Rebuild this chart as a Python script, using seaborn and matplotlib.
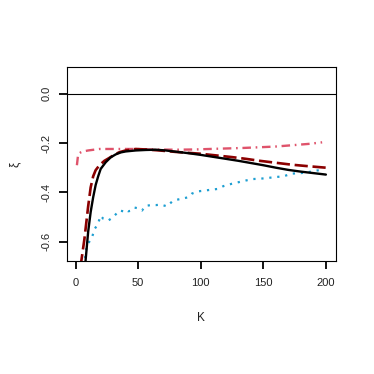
import matplotlib
matplotlib.use("Agg")
import matplotlib.pyplot as plt
import seaborn as sns

# xi estimates against K
k_black = [4, 8, 10, 12, 14, 16, 18, 20, 24, 28, 32, 36, 40, 48, 56, 64, 72, 80,
           90, 100, 110, 120, 130, 140, 150, 160, 170, 180, 190, 200]
xi_black = [-0.95, -0.673, -0.56, -0.48, -0.42, -0.37, -0.335, -0.305, -0.278, -0.258,
            -0.246, -0.238, -0.234, -0.23, -0.228, -0.227, -0.23, -0.235, -0.241, -0.248,
            -0.256, -0.264, -0.272, -0.281, -0.29, -0.3, -0.309, -0.316, -0.322, -0.328]

k_red = [3, 4.5, 7, 10, 12, 14, 16, 19, 23, 27, 31, 35, 40, 48, 56, 67, 80, 99,
         112, 125, 136, 147, 160, 173, 186, 200]
xi_red = [-0.85, -0.68, -0.59, -0.457, -0.38, -0.335, -0.31, -0.29, -0.272, -0.26,
          -0.247, -0.237, -0.23, -0.224, -0.226, -0.23, -0.236, -0.243, -0.25, -0.257,
          -0.264, -0.272, -0.28, -0.288, -0.294, -0.30]

k_pink = [1, 2, 4, 6, 10, 19, 30, 46, 60, 80, 95, 107, 120, 133, 147, 160, 175, 187, 197]
xi_pink = [-0.29, -0.245, -0.238, -0.234, -0.23, -0.224, -0.224, -0.224, -0.226, -0.227,
           -0.226, -0.224, -0.222, -0.22, -0.217, -0.214, -0.208, -0.203, -0.197]

k_cyan = [7, 8, 9, 11, 13, 15, 17, 18, 20, 22, 24, 26, 28, 31, 35, 38, 40, 42, 44, 47,
          50, 53, 56, 60, 64, 68, 73, 77, 81, 85, 90, 93, 98, 103, 109, 114, 118, 125,
          131, 136, 142, 147, 153, 160, 166, 173, 180, 186, 192, 198]
xi_cyan = [-0.70, -0.646, -0.615, -0.60, -0.585, -0.55, -0.535, -0.525, -0.495, -0.507,
           -0.51, -0.515, -0.508, -0.495, -0.474, -0.477, -0.47, -0.477, -0.475, -0.462,
           -0.465, -0.474, -0.455, -0.452, -0.452, -0.45, -0.457, -0.438, -0.43, -0.426,
           -0.42, -0.405, -0.396, -0.393, -0.389, -0.386, -0.375, -0.365, -0.358, -0.352,
           -0.346, -0.345, -0.342, -0.338, -0.335, -0.324, -0.322, -0.318, -0.312, -0.308]

x_ticks = [0, 50, 100, 150, 200]
y_ticks = [-0.6, -0.4, -0.2, 0.0]

sns.set_style("ticks")
plt.rcParams['font.family'] = ['Liberation Sans', 'DejaVu Sans']
plt.rcParams['axes.unicode_minus'] = False

fig = plt.figure(figsize=(3.74, 3.74), dpi=100)
ax = fig.add_axes([0.179, 0.302, 0.719, 0.519])

ax.axhline(0, color="black", lw=0.8)
sns.lineplot(x=k_cyan, y=xi_cyan, ax=ax, color="#1E9FD2", lw=1.6,
             linestyle=(0, (1, 2.6)), sort=False)
sns.lineplot(x=k_pink, y=xi_pink, ax=ax, color="#DF536B", lw=1.7,
             linestyle=(0, (3.6, 2, 0.7, 2)), sort=False)
sns.lineplot(x=k_red, y=xi_red, ax=ax, color="#8B0000", lw=1.9,
             linestyle=(0, (5, 1.8)), sort=False)
sns.lineplot(x=k_black, y=xi_black, ax=ax, color="black", lw=1.7, sort=False)

ax.set_xlim(-6.96, 207.96)
ax.set_ylim(-0.6792, 0.1092)
ax.set_xticks(x_ticks)
ax.set_yticks(y_ticks)
ax.set_yticklabels([f"{v:.1f}" for v in y_ticks], rotation=90, va="center")

for s in ax.spines.values():
    s.set_color("black")
    s.set_linewidth(0.8)
ax.tick_params(axis="both", direction="out", length=5.5, width=1.3, color="black",
               labelsize=8, labelcolor="#222222")
ax.tick_params(axis="x", pad=6.5)
ax.tick_params(axis="y", pad=5.5)

ax.set_xlabel("K", fontsize=8.5, color="#222222")
ax.set_ylabel("ξ", fontsize=8.5, color="#222222", rotation=90)
ax.xaxis.set_label_coords(0.5, -0.263)
ax.yaxis.set_label_coords(-0.171, 0.5)

fig.savefig("out.png", dpi=100)
